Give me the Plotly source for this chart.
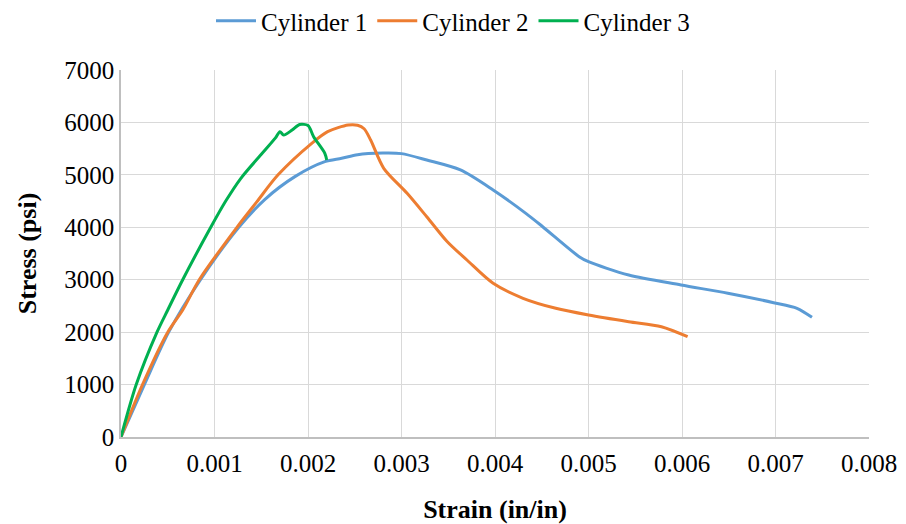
import plotly.graph_objects as go

c1_strain = [0, 0.00025, 0.00051, 0.00085, 0.00126, 0.00154, 0.00186, 0.00218, 0.00236, 0.00253,
             0.0028, 0.003, 0.00327, 0.00363, 0.00398, 0.00433, 0.00451, 0.0049, 0.005,
             0.00543, 0.00599, 0.00649, 0.00698, 0.00723, 0.00739]
c1_stress = [0, 1000, 2000, 3000, 4000, 4534, 4966, 5251, 5315, 5385,
             5415, 5405, 5283, 5093, 4711, 4266, 4011, 3439, 3343,
             3090, 2899, 2741, 2562, 2455, 2283]

c2_strain = [0, 0.00023, 0.0005, 0.00066, 0.000837, 0.00124, 0.00145, 0.00168, 0.00204, 0.00221,
             0.00243, 0.00253, 0.0026, 0.00267, 0.00281, 0.00306, 0.00327, 0.00349, 0.0037,
             0.00398, 0.0043, 0.00465, 0.005, 0.00543, 0.00578, 0.00606]
c2_stress = [0, 1000, 2000, 2423, 3000, 4000, 4480, 5000, 5601, 5823,
             5950, 5945, 5880, 5665, 5125, 4648, 4202, 3725, 3376,
             2932, 2646, 2455, 2327, 2199, 2104, 1913]

c3_strain = [0, 0.000163, 0.000385, 0.0005, 0.00066, 0.00096, 0.00112, 0.00128, 0.00151, 0.00165,
             0.0017, 0.00174, 0.00183, 0.00191, 0.002, 0.00206, 0.00218, 0.0022]
c3_stress = [0, 1000, 2000, 2423, 3000, 4000, 4500, 4930, 5411, 5700,
             5823, 5760, 5855, 5960, 5940, 5728, 5411, 5283]

x_ticks = [0, 0.001, 0.002, 0.003, 0.004, 0.005, 0.006, 0.007, 0.008]
x_labels = ["0", "0.001", "0.002", "0.003", "0.004", "0.005", "0.006", "0.007", "0.008"]
y_ticks = [0, 1000, 2000, 3000, 4000, 5000, 6000, 7000]

series = [
    ("Cylinder 1", c1_strain, c1_stress, "#5B9BD5"),
    ("Cylinder 2", c2_strain, c2_stress, "#ED7D31"),
    ("Cylinder 3", c3_strain, c3_stress, "#00B050"),
]

fig = go.Figure()
for name, xs, ys, col in series:
    fig.add_trace(go.Scatter(x=xs, y=ys, mode="lines", name=name,
                             line=dict(color=col, width=3, shape="spline", smoothing=0.8)))

font_family = "Times New Roman, Liberation Serif, serif"
fig.update_layout(
    width=890, height=516,
    margin=dict(l=113, r=29, t=62, b=87, autoexpand=False),
    paper_bgcolor="white", plot_bgcolor="white",
    font=dict(family=font_family, size=25, color="black"),
    legend=dict(orientation="h", x=0.5, xanchor="center", xref="container",
                y=1.1335, yanchor="middle", yref="paper",
                font=dict(family=font_family, size=25), itemwidth=40, tracegroupgap=0),
    xaxis=dict(range=[0, 0.008], tickvals=x_ticks, ticktext=x_labels,
               showgrid=True, gridcolor="#D9D9D9", gridwidth=1.3,
               showline=True, linecolor="#BFBFBF", linewidth=1.5,
               zeroline=False, ticks="", ticklen=0, ticklabelstandoff=3,
               title=dict(text="<b>Strain (in/in)</b>",
                          font=dict(family=font_family, size=26), standoff=24)),
    yaxis=dict(range=[0, 7000], tickvals=y_ticks,
               showgrid=True, gridcolor="#D9D9D9", gridwidth=1.3,
               showline=True, linecolor="#BFBFBF", linewidth=1.5,
               zeroline=False, ticks="",
               title=dict(text="<b>Stress (psi)</b>",
                          font=dict(family=font_family, size=26), standoff=20)),
)
fig.write_html("out.html")
